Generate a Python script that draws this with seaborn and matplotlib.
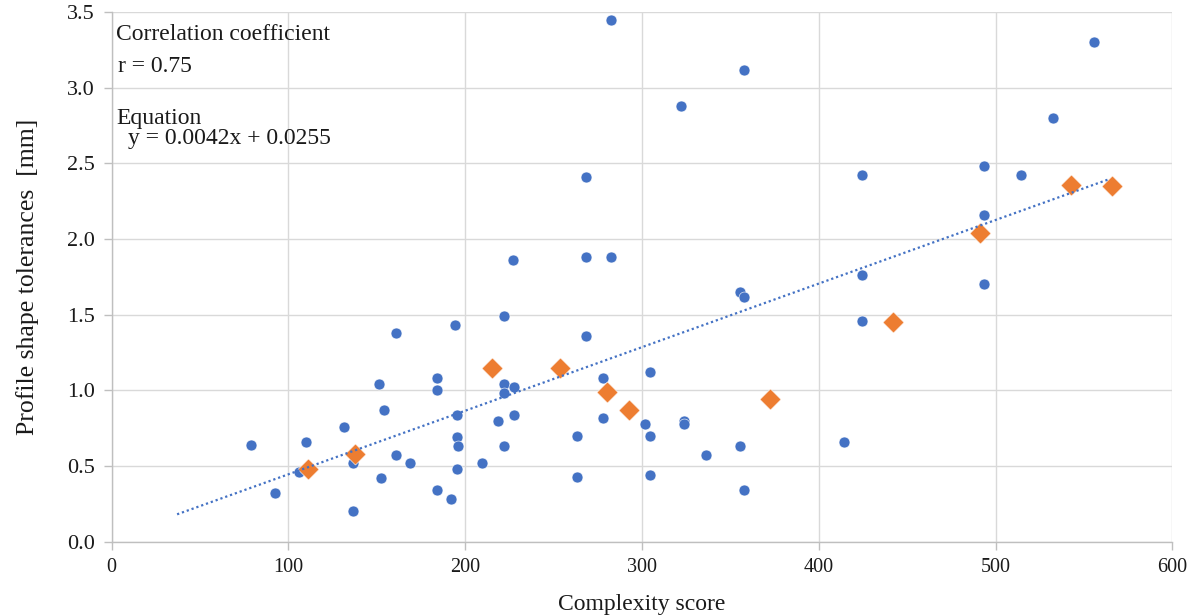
import matplotlib
matplotlib.use("Agg")
import matplotlib.pyplot as plt
import pandas as pd
import seaborn as sns

# blue series (complexity score, tolerance in mm)
blue_x = [78.8, 92.2, 106.1, 110.1, 131.2, 136.5, 136.5, 151.2, 152.3, 154.2,
          160.7, 160.7, 168.9, 183.9, 183.9, 183.9, 191.9, 194.0, 195.3, 195.3,
          195.9, 195.3, 209.3, 218.4, 222.1, 222.1, 222.1, 222.1, 227.2, 227.4,
          227.4, 263.1, 263.1, 268.1, 268.1, 268.1, 277.9, 277.9, 282.5, 282.3,
          301.5, 304.7, 304.7, 304.7, 321.9, 323.9, 323.9, 336.0, 355.3, 357.7,
          355.3, 357.7, 357.7, 414.1, 424.3, 424.3, 424.3, 493.3, 493.3, 493.4,
          514.6, 532.5, 555.5]
blue_y = [0.64, 0.32, 0.46, 0.66, 0.76, 0.52, 0.20, 1.04, 0.42, 0.87,
          1.38, 0.57, 0.52, 1.08, 1.00, 0.34, 0.28, 1.43, 0.84, 0.69,
          0.63, 0.48, 0.52, 0.80, 1.49, 1.04, 0.98, 0.63, 1.86, 1.02,
          0.84, 0.70, 0.43, 2.41, 1.88, 1.36, 1.08, 0.82, 3.45, 1.88,
          0.78, 1.12, 0.70, 0.44, 2.88, 0.80, 0.78, 0.57, 1.65, 1.62,
          0.63, 0.34, 3.12, 0.66, 2.42, 1.76, 1.46, 2.48, 2.16, 1.70,
          2.42, 2.80, 3.30]

# orange series
orange_x = [111.0, 137.8, 215.1, 253.6, 280.0, 292.8, 372.2, 442.0, 491.2, 542.5, 566.0]
orange_y = [0.48, 0.58, 1.15, 1.15, 0.99, 0.87, 0.94, 1.45, 2.04, 2.36, 2.35]

# linear trendline  y = 0.0042x + 0.0255
trend_slope = 0.0042
trend_icpt = 0.0255
trend_x = [37, 564]

x_ticks = [0, 100, 200, 300, 400, 500, 600]
y_ticks = [0.0, 0.5, 1.0, 1.5, 2.0, 2.5, 3.0, 3.5]

BLUE = "#4472C4"
ORANGE = "#ED7D31"
GRID = "#D9D9D9"
TXT = "#1a1a1a"

sns.set_theme(style="whitegrid")
plt.rcParams["font.family"] = ["Liberation Serif", "DejaVu Serif"]

df_blue = pd.DataFrame({"x": blue_x, "y": blue_y})
df_orange = pd.DataFrame({"x": orange_x, "y": orange_y})
df_trend = pd.DataFrame({"x": trend_x})
df_trend["y"] = trend_slope * df_trend["x"] + trend_icpt

fig = plt.figure(figsize=(11.92, 6.15), dpi=100)
ax = fig.add_axes([0.0937, 0.1192, 0.8898, 0.8613])

sns.scatterplot(data=df_blue, x="x", y="y", color=BLUE, s=62,
                edgecolor="white", linewidth=0.4, ax=ax, zorder=3)
sns.scatterplot(data=df_orange, x="x", y="y", color=ORANGE, marker="D", s=115,
                edgecolor="white", linewidth=0.4, ax=ax, zorder=4)
sns.lineplot(data=df_trend, x="x", y="y", color=BLUE, linewidth=1.6,
             linestyle=(0, (1, 1.3)), ax=ax, zorder=5)

ax.set_xlim(0, 600)
ax.set_ylim(0, 3.5)
ax.set_xticks(x_ticks)
ax.set_yticks(y_ticks)
ax.set_xticklabels([str(t) for t in x_ticks])
ax.set_yticklabels([f"{t:.1f}" for t in y_ticks])

ax.grid(True, color=GRID, linewidth=1.0)
for side in ["top", "right"]:
    ax.spines[side].set_visible(False)
for side in ["left", "bottom"]:
    ax.spines[side].set_color("#BFBFBF")
    ax.spines[side].set_linewidth(1.0)
ax.tick_params(axis="both", which="both", direction="out", length=6,
               width=1.0, color="#BFBFBF", labelcolor=TXT,
               left=True, bottom=True, pad=6)
ax.tick_params(axis="x", labelsize=14.5)
ax.tick_params(axis="y", labelsize=16)

ax.set_xlabel("Complexity score", fontsize=17, color=TXT, labelpad=12)
ax.set_ylabel("Profile shape tolerances  [mm]", fontsize=18.5, color=TXT,
              labelpad=20)

ax.text(2.4, 3.35, "Correlation coefficient", fontsize=17, va="center", color=TXT)
ax.text(3.6, 3.143, "r = 0.75", fontsize=17, va="center", color=TXT)
ax.text(2.4, 2.793, "Equation", fontsize=17, va="center", color=TXT)
ax.text(9.2, 2.667, "y = 0.0042x + 0.0255", fontsize=17, va="center", color=TXT)

fig.savefig("out.png", dpi=100)
plt.close(fig)
